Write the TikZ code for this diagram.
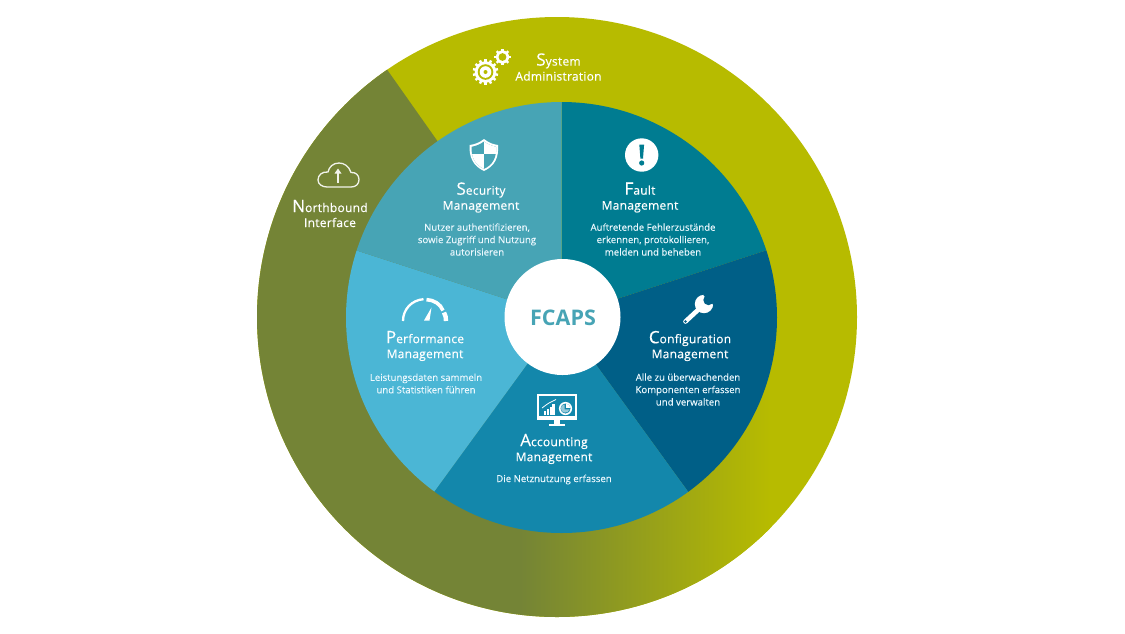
\documentclass[tikz,border=0pt]{standalone}
\usepackage{fontspec}
\setmainfont{Open Sans}
\newfontfamily\hfont[LetterSpace=2.2,FakeBold=0.35]{Open Sans}
\newfontfamily\dfont[FakeBold=0.12]{Open Sans}
\definecolor{olivedark}{HTML}{748436}
\definecolor{ringyellow}{HTML}{B7BB00}
\definecolor{secC}{HTML}{47A4B5}
\definecolor{faultC}{HTML}{007C91}
\definecolor{confC}{HTML}{005F87}
\definecolor{acctC}{HTML}{1387AB}
\definecolor{perfC}{HTML}{4BB6D5}
\newcommand{\hdl}[2]{{\fontsize{17}{15}\selectfont #1}#2}
\newcommand{\gearicon}[5]{% cx cy router rbody teeth
  \foreach \ga in {1,...,#5}{
    \fill[white,shift={(#1,#2)},rotate=\ga*360/#5] (-1.2,0) rectangle (1.2,#3);
  }
  \fill[white] (#1,#2) circle (#4);
}
\tikzset{
  headtxt/.style={text=white,align=center,font=\hfont\fontsize{12}{15}\selectfont,inner sep=0pt},
  desctxt/.style={text=white!92!cyan,align=center,font=\dfont\fontsize{9.6}{12.4}\selectfont,inner sep=0pt},
}
\begin{document}
\begin{tikzpicture}[x=1pt,y=-1pt]
\useasboundingbox (0,0) rectangle (1125,633);
% outer ring
\fill[ringyellow] (557,317) circle (300);
\begin{scope}
  \clip (557,317) circle (300);
  \clip (350,17) -- (561.5,317) -- (1000,317) -- (1000,640) -- (200,640) -- (200,17) -- cycle;
  \fill[olivedark] (200,0) rectangle (521,640);
  \shade[left color=olivedark,right color=ringyellow] (520,0) rectangle (770,640);
\end{scope}
% inner sectors
\begin{scope}
  \clip (561.5,317.5) circle (215.5);
  \fill[faultC] (561.5,317) -- (561.5,17) -- (846.3,17) -- (846.3,224.3) -- cycle;
  \fill[confC] (561.5,317) -- (846.3,224.3) -- (846.3,559.7) -- (737.4,559.7) -- cycle;
  \fill[acctC] (561.5,317) -- (737.4,559.7) -- (384.6,559.7) -- cycle;
  \fill[perfC] (561.5,317) -- (384.6,559.7) -- (275.7,559.7) -- (275.7,224.3) -- cycle;
  \fill[secC] (561.5,317) -- (275.7,224.3) -- (275.7,17) -- (561.5,17) -- cycle;
\end{scope}
\fill[white] (562.5,317) circle (58);
\node[text=secC,inner sep=0pt,font=\bfseries\fontsize{21.5}{24}\selectfont] (fcaps) at (563,318) {FCAPS};
% text
\node[headtxt] (sys) at (558.5,67) {\hdl{S}{ystem}\\Administration};
\node[headtxt] (nbi) at (330,213.5) {\hdl{N}{orthbound}\\Interface};
\node[headtxt] (sec) at (481,197.5) {\hdl{S}{ecurity}\\Management};
\node[desctxt] (secd) at (477,239.5) {Nutzer authentifizieren,\\sowie Zugriff und Nutzung\\autorisieren};
\node[headtxt] (flt) at (640,197.5) {\hdl{F}{ault}\\Management};
\node[desctxt] (fltd) at (653,239.5) {Auftretende Fehlerzustände\\erkennen, protokollieren,\\melden und beheben};
\node[headtxt] (cfg) at (690,346) {\hdl{C}{onfiguration}\\Management};
\node[desctxt] (cfgd) at (688,389.5) {Alle zu überwachenden\\Komponenten erfassen\\und verwalten};
\node[headtxt] (prf) at (425,346) {\hdl{P}{erformance}\\Management};
\node[desctxt] (prfd) at (426,383.5) {Leistungsdaten sammeln\\und Statistiken führen};
\node[headtxt] (acc) at (554,449) {\hdl{A}{ccounting}\\Management};
\node[desctxt] (accd) at (554,479.5) {Die Netznutzung erfassen};
% gears
\gearicon{485.5}{72}{12.8}{10.8}{14}
\fill[ringyellow] (485.5,72) circle (7.8);
\fill[white] (485.5,72) circle (5.8);
\fill[ringyellow] (485.5,72) circle (2);
\gearicon{502.5}{57}{8.3}{6.6}{8}
\fill[ringyellow] (502.5,57) circle (3.9);
% cloud
\draw[white!90!olivedark,line width=1.3pt,line join=round]
  (327,187) -- (351,187) .. controls (356,187) and (359,184) .. (359,179.5)
  .. controls (359,175) and (355.5,172) .. (351,172.5)
  .. controls (349,166) and (344,163) .. (339,163)
  .. controls (333,163) and (329,167) .. (328,172)
  .. controls (322,171.5) and (318,175) .. (318,180)
  .. controls (318,184) and (322,187) .. (327,187) -- cycle;
\draw[white!90!olivedark,line width=1.3pt] (338,183) -- (338,171);
\fill[white!90!olivedark] (338,168.5) -- (341.5,173.5) -- (334.5,173.5) -- cycle;
% shield
\fill[white] (484,139) .. controls (479,143) and (474,144.5) .. (469.5,145)
  .. controls (469,157) and (473,166) .. (484,171)
  .. controls (495,166) and (499,157) .. (498,145)
  .. controls (494,144.5) and (489,143) .. (484,139) -- cycle;
\fill[secC] (484,141.5) .. controls (480,144.5) and (476,146) .. (471.5,146.8)
  .. controls (471.2,157) and (475,165) .. (484,168.8)
  .. controls (493,165) and (496.6,157) .. (496.2,146.8)
  .. controls (492,146) and (488,144.5) .. (484,141.5) -- cycle;
\begin{scope}
  \clip (484,141.5) .. controls (480,144.5) and (476,146) .. (471.5,146.8)
  .. controls (471.2,157) and (475,165) .. (484,168.8)
  .. controls (493,165) and (496.6,157) .. (496.2,146.8)
  .. controls (492,146) and (488,144.5) .. (484,141.5) -- cycle;
  \fill[white] (484,140) rectangle (498,154);
  \fill[white] (470,154) rectangle (484,170);
\end{scope}
% fault icon
\fill[white] (641.7,155) circle (16.7);
\fill[faultC] (639.3,144.5) -- (644.1,144.5) -- (643,158.5) -- (640.4,158.5) -- cycle;
\fill[faultC] (641.7,163) circle (2.6);
% wrench
\fill[white] (704,304) circle (9.2);
\draw[white,line width=4.6pt,line cap=round] (699,309) -- (685.5,321.5);
\fill[confC] (685.5,321.5) circle (1.3);
\fill[confC] (708.5,300) circle (5.2);
\fill[confC] (703.6,295.6) -- (703.6,290) -- (720,290) -- (720,305) -- (713.4,305) -- (709,300) -- cycle;
% gauge
\draw[white,line width=2.3pt] (403,321) .. controls (403,309) and (412,300) .. (423.5,299.2);
\draw[white,line width=3.6pt] (426.5,299.6) .. controls (434,300) and (440.5,304) .. (443,310.5);
\draw[white,line width=4.4pt] (444,312.5) .. controls (445.6,315) and (446,318) .. (446,321);
\fill[white] (431.5,307.5) -- (429.5,320.5) -- (424,320.5) -- cycle;
% monitor
\draw[white,line width=1.6pt] (537.8,394.8) rectangle (576.2,419.5);
\fill[white] (537,416) rectangle (577,420.2);
\fill[white] (554,420) rectangle (560,424);
\fill[white] (549,424) rectangle (565,426);
\fill[white] (544,410.5) rectangle (546,414.5);
\fill[white] (546.8,409) rectangle (548.8,414.5);
\fill[white] (549.6,406.5) rectangle (551.6,414.5);
\fill[white] (552.4,403.5) rectangle (554.8,414.5);
\draw[white,line width=0.8pt] (542,408) -- (546,405) -- (549,403) -- (552,401.5) -- (556,399.5);
\fill[white] (565.5,408.5) circle (6.6);
\fill[acctC] (565.5,408.5) circle (5);
\fill[white] (566.2,407.8) -- (566.2,403.8) .. controls (568.5,403.8) and (570.2,405.5) .. (570.2,407.8) -- cycle;
\fill[white!55!acctC] (564.6,404.5) -- (564.6,409.4) -- (569.5,409.4) .. controls (569,411.5) and (567,412.6) .. (565,412.6) .. controls (562.6,412.6) and (560.8,410.6) .. (560.8,408.4) .. controls (560.8,406.2) and (562.6,404.5) .. (564.6,404.5) -- cycle;
\end{tikzpicture}
\end{document}
